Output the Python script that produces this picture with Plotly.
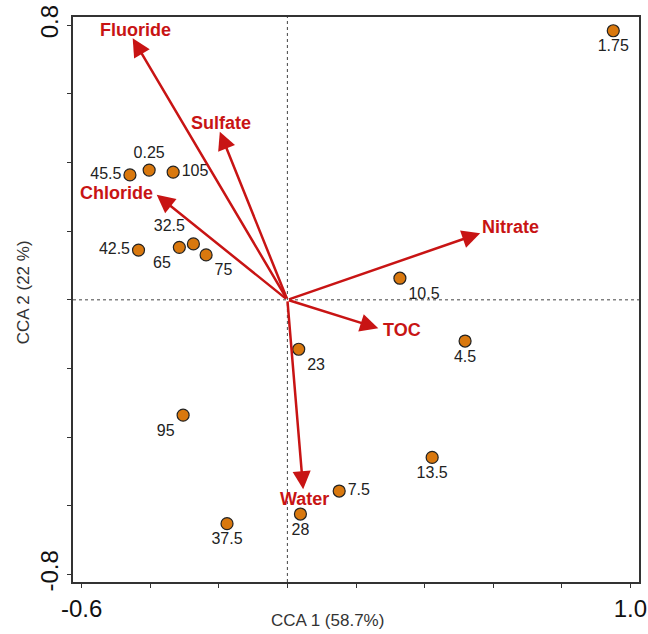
import plotly.graph_objects as go

# Site scores
site_labels = ["1.75", "45.5", "0.25", "105", "42.5", "65", "32.5", "75",
               "10.5", "4.5", "23", "95", "13.5", "7.5", "28", "37.5"]
cca1 = [0.950, -0.459, -0.403, -0.333, -0.434, -0.315, -0.274, -0.237,
        0.328, 0.518, 0.033, -0.304, 0.422, 0.151, 0.038, -0.176]
cca2 = [0.784, 0.364, 0.378, 0.372, 0.145, 0.153, 0.163, 0.131,
        0.063, -0.120, -0.144, -0.336, -0.459, -0.557, -0.624, -0.652]

# Environmental variable vectors
env_vars = ["Fluoride", "Sulfate", "Chloride", "Nitrate", "TOC", "Water"]
env_cca1 = [-0.451, -0.197, -0.381, 0.562, 0.265, 0.046]
env_cca2 = [0.762, 0.490, 0.306, 0.194, -0.083, -0.552]

# Axis ticks
x_ticks = [-0.6, -0.4, -0.2, 0.0, 0.2, 0.4, 0.6, 0.8, 1.0]
x_ticktext = ["-0.6", "", "", "", "", "", "", "", "1.0"]
y_ticks = [-0.8, -0.6, -0.4, -0.2, 0.0, 0.2, 0.4, 0.6, 0.8]
y_ticktext = ["-0.8", "", "", "", "", "", "", "", "0.8"]

# styles
site_textpos = ["bottom center", "middle left", "top center", "middle right",
                "middle left", "bottom left", "top left", "bottom right",
                "bottom right", "bottom center", "bottom right", "bottom left",
                "bottom center", "middle right", "bottom center", "bottom center"]
# label placement relative to arrow tip: (xanchor, yanchor, xshift, yshift)
env_label_style = [("center", "middle", 3, 8),
                   ("center", "middle", 1, 9),
                   ("right", "middle", -2, 2),
                   ("left", "middle", 0, 6),
                   ("left", "middle", 3, -2),
                   ("center", "middle", 1, -10)]

ARROW_COLOR = "#C81414"
FONT = "Liberation Sans, Arial, sans-serif"

fig = go.Figure()

fig.add_trace(go.Scatter(
    x=cca1, y=cca2, mode="markers+text",
    text=site_labels, textposition=site_textpos,
    textfont=dict(family=FONT, size=16, color="#222222"),
    marker=dict(size=12, color="#D9780E", line=dict(color="#222222", width=1.2)),
    showlegend=False, hoverinfo="skip",
))

annotations = []
for name, ex, ey, (xa, ya, xs, ys) in zip(env_vars, env_cca1, env_cca2, env_label_style):
    annotations.append(dict(
        x=ex, y=ey, ax=0, ay=0, xref="x", yref="y", axref="x", ayref="y",
        text="", showarrow=True, arrowhead=2, arrowsize=1.45, arrowwidth=2.5,
        arrowcolor=ARROW_COLOR,
    ))
    annotations.append(dict(
        x=ex, y=ey, xref="x", yref="y", text="<b>%s</b>" % name, showarrow=False,
        xanchor=xa, yanchor=ya, xshift=xs, yshift=ys,
        font=dict(family=FONT, size=18, color=ARROW_COLOR),
    ))

annotations.append(dict(
    x=0.449, y=-0.069, xref="paper", yref="paper", text="CCA 1 (58.7%)",
    showarrow=False, xanchor="center", yanchor="middle",
    font=dict(family=FONT, size=17, color="#333333"),
))
annotations.append(dict(
    x=-0.088, y=0.513, xref="paper", yref="paper", text="CCA 2 (22 %)",
    showarrow=False, xanchor="center", yanchor="middle", textangle=-90,
    font=dict(family=FONT, size=17, color="#333333"),
))

shapes = [
    dict(type="line", xref="x", yref="paper", x0=0, x1=0, y0=0, y1=1,
         line=dict(color="#444444", width=1, dash="dot"), layer="below"),
    dict(type="line", xref="paper", yref="y", x0=0, x1=1, y0=0, y1=0,
         line=dict(color="#444444", width=1, dash="dot"), layer="below"),
]

fig.update_layout(
    width=648, height=634,
    margin=dict(l=73, r=9, t=17, b=52, autoexpand=False),
    paper_bgcolor="white", plot_bgcolor="white",
    annotations=annotations, shapes=shapes,
    xaxis=dict(range=[-0.625, 1.025], tickvals=x_ticks, ticktext=x_ticktext,
               automargin=False,
               showgrid=False, zeroline=False, showline=True, mirror=True,
               linecolor="#333333", linewidth=1.5, ticks="outside", ticklen=4,
               tickcolor="#333333", tickwidth=1.2,
               tickfont=dict(family=FONT, size=24, color="#111111")),
    yaxis=dict(range=[-0.822, 0.824], tickvals=y_ticks, ticktext=y_ticktext,
               automargin=False,
               showgrid=False, zeroline=False, showline=True, mirror=True,
               linecolor="#333333", linewidth=1.5, ticks="outside", ticklen=4,
               tickcolor="#333333", tickwidth=1.2, tickangle=-90,
               tickfont=dict(family=FONT, size=24, color="#111111")),
)

fig.write_html("out.html")
